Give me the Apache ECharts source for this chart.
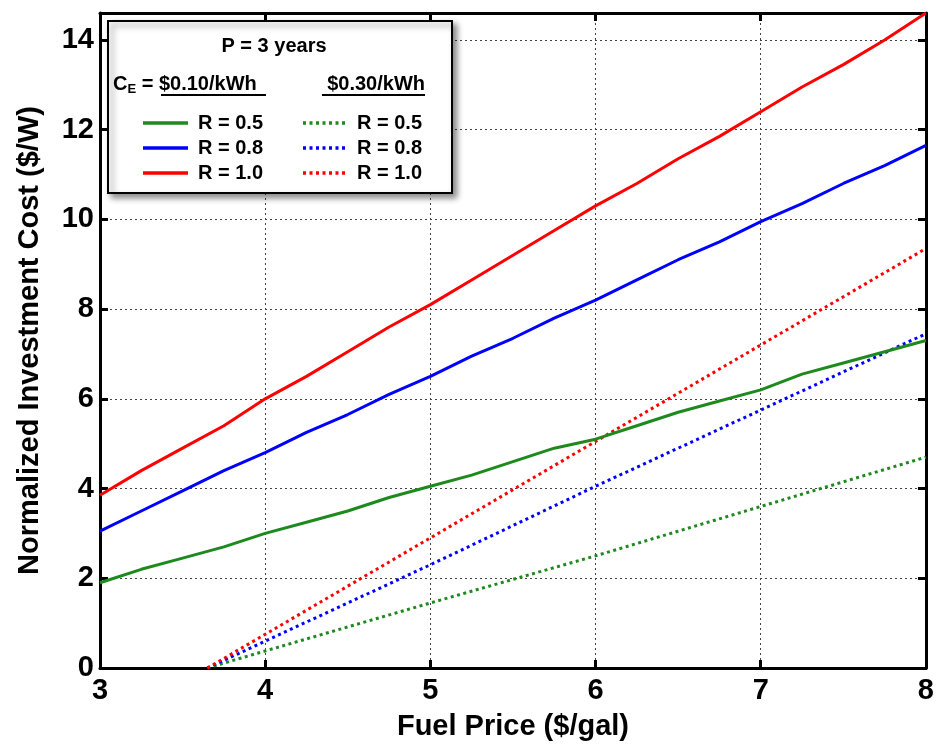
<!DOCTYPE html>
<html>
<head>
<meta charset="utf-8">
<script src="https://cdn.jsdelivr.net/npm/echarts@6/dist/echarts.min.js"></script>
<style>
  html, body { margin: 0; padding: 0; background: #fff; }
  #chart { width: 937px; height: 746px; }
</style>
</head>
<body>
<div id="chart"></div>
<script>
// Fuel price samples ($/gal)
const fuelPrice = [3, 3.25, 3.5, 3.75, 4, 4.25, 4.5, 4.75, 5, 5.25, 5.5, 5.75, 6, 6.25, 6.5, 6.75, 7, 7.25, 7.5, 7.75, 8];
// C_E = $0.10/kWh
const r05Low = [1.9, 2.2, 2.45, 2.7, 3.0, 3.25, 3.5, 3.8, 4.05, 4.3, 4.6, 4.9, 5.1, 5.4, 5.7, 5.95, 6.2, 6.55, 6.8, 7.05, 7.3];
const r08Low = [3.05, 3.5, 3.95, 4.4, 4.8, 5.25, 5.65, 6.1, 6.5, 6.95, 7.35, 7.8, 8.2, 8.65, 9.1, 9.5, 9.95, 10.35, 10.8, 11.2, 11.65];
const r10Low = [3.85, 4.4, 4.9, 5.4, 6.0, 6.5, 7.05, 7.6, 8.1, 8.65, 9.2, 9.75, 10.3, 10.8, 11.35, 11.85, 12.4, 12.95, 13.45, 14.0, 14.6];
// C_E = $0.30/kWh (break-even starts near $3.65/gal)
const fuelPriceHigh = [3.65, 4, 5, 6, 7, 8];
const r05High = [0, 0.38, 1.45, 2.5, 3.6, 4.7];
const r08High = [0, 0.6, 2.3, 4.05, 5.75, 7.45];
const r10High = [0, 0.75, 2.9, 5.05, 7.2, 9.35];

const xTicks = [3, 4, 5, 6, 7, 8];
const yTicks = [0, 2, 4, 6, 8, 10, 12, 14];

const GREEN = '#1e8a1e', BLUE = '#0000ff', RED = '#ff0000';
const FONT = '"Liberation Sans", Arial, sans-serif';
const DOT = [3, 3.5];

const pair = (xs, ys) => xs.map((x, i) => [x, ys[i]]);

function lineSeries(name, xs, ys, color, dotted) {
  return {
    name, type: 'line', data: pair(xs, ys), showSymbol: false, symbol: 'none',
    silent: true, z: 5,
    lineStyle: { color, width: 3, type: dotted ? DOT : 'solid' }
  };
}

const gridLine = { show: true, lineStyle: { color: '#444', width: 1, type: [2, 3] } };
const axLine = { show: true, onZero: false, lineStyle: { color: '#000', width: 3 } };
const tick = { show: true, inside: true, length: 8, lineStyle: { color: '#000', width: 3 } };

const chart = echarts.init(document.getElementById('chart'), null, { renderer: 'canvas' });

// Legend box contents
const L = { x: 108, y: 21, w: 344, h: 172 };
const legendRows = [
  { label: 'R = 0.5', color: GREEN, y: 123 },
  { label: 'R = 0.8', color: BLUE, y: 148 },
  { label: 'R = 1.0', color: RED, y: 173 }
];
const txt = (x, y, text, align) => ({
  type: 'text', x, y, z: 101,
  style: { text, fill: '#000', font: 'bold 20px ' + FONT, textAlign: align || 'left', textVerticalAlign: 'middle' }
});
const seg = (x1, x2, y, color, dotted, w) => ({
  type: 'line', z: 101,
  shape: { x1, y1: y, x2, y2: y },
  style: { stroke: color, lineWidth: w || 3, lineDash: dotted ? DOT : null }
});

const legendElems = [
  {
    type: 'rect', z: 100,
    shape: { x: L.x, y: L.y, width: L.w, height: L.h },
    style: { fill: '#fff', stroke: '#000', lineWidth: 2, shadowBlur: 6, shadowOffsetX: 4, shadowOffsetY: 4, shadowColor: 'rgba(0,0,0,0.45)' }
  },
  txt(274, 46, 'P = 3 years', 'center'),
  {
    type: 'text', x: 113, y: 84, z: 101,
    style: {
      text: '{a|C}{s|E}{a| = $0.10/kWh}',
      textVerticalAlign: 'middle',
      rich: {
        a: { font: 'bold 20px ' + FONT, fill: '#000' },
        s: { font: 'bold 13px ' + FONT, fill: '#000', verticalAlign: 'bottom', padding: [10, 0, 0, 0] }
      }
    }
  },
  seg(161, 266, 95, '#000', false, 2),
  txt(425, 84, '$0.30/kWh', 'right'),
  seg(322, 425, 95, '#000', false, 2)
];
legendRows.forEach(r => {
  legendElems.push(seg(143, 188, r.y, r.color, false, 3.5));
  legendElems.push(txt(198, r.y, r.label));
  legendElems.push(seg(303, 345, r.y, r.color, true, 3.5));
  legendElems.push(txt(357, r.y, r.label));
});

chart.setOption({
  animation: false,
  backgroundColor: '#fff',
  grid: { left: 100, right: 7, top: 13, bottom: 77, containLabel: false },
  xAxis: [
    {
      type: 'value', min: xTicks[0], max: xTicks[xTicks.length - 1], interval: 1, position: 'bottom',
      name: 'Fuel Price ($/gal)', nameLocation: 'middle', nameGap: 44,
      nameTextStyle: { fontFamily: FONT, fontWeight: 'bold', fontSize: 29, color: '#000' },
      axisLine: axLine, axisTick: tick, splitLine: gridLine,
      axisLabel: { fontFamily: FONT, fontWeight: 'bold', fontSize: 29, color: '#000', margin: 8 }
    },
    {
      type: 'value', min: xTicks[0], max: xTicks[xTicks.length - 1], interval: 1, position: 'top',
      axisLine: axLine, axisTick: tick, splitLine: { show: false }, axisLabel: { show: false }
    }
  ],
  yAxis: [
    {
      type: 'value', min: yTicks[0], max: 14.6, interval: 2, position: 'left',
      name: 'Normalized Investment Cost ($/W)', nameLocation: 'middle', nameGap: 56,
      nameTextStyle: { fontFamily: FONT, fontWeight: 'bold', fontSize: 29, color: '#000' },
      axisLine: axLine, axisTick: tick, splitLine: gridLine,
      axisLabel: {
        fontFamily: FONT, fontWeight: 'bold', fontSize: 29, color: '#000', margin: 6,
        showMaxLabel: false,
        formatter: v => (yTicks.indexOf(v) >= 0 ? String(v) : '')
      }
    },
    {
      type: 'value', min: yTicks[0], max: 14.6, interval: 2, position: 'right',
      axisLine: axLine, axisTick: tick, splitLine: { show: false }, axisLabel: { show: false }
    }
  ],
  series: [
    lineSeries('R = 0.5 ($0.30/kWh)', fuelPriceHigh, r05High, GREEN, true),
    lineSeries('R = 0.8 ($0.30/kWh)', fuelPriceHigh, r08High, BLUE, true),
    lineSeries('R = 1.0 ($0.30/kWh)', fuelPriceHigh, r10High, RED, true),
    lineSeries('R = 0.5 ($0.10/kWh)', fuelPrice, r05Low, GREEN, false),
    lineSeries('R = 0.8 ($0.10/kWh)', fuelPrice, r08Low, BLUE, false),
    lineSeries('R = 1.0 ($0.10/kWh)', fuelPrice, r10Low, RED, false)
  ],
  graphic: legendElems
});
</script>
</body>
</html>
